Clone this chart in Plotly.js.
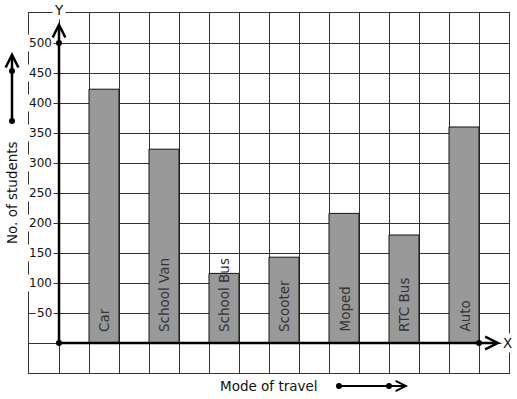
<!DOCTYPE html>
<html><head><meta charset="utf-8">
<script src="https://cdn.plot.ly/plotly-3.0.1.min.js"></script>
<style>html,body{margin:0;padding:0;background:#fff}</style>
</head><body><div id="chart" style="width:517px;height:399px"></div>
<script>
// ---- data ----
const categories = ['Car', 'School Van', 'School Bus', 'Scooter', 'Moped', 'RTC Bus', 'Auto'];
const students = [423, 323, 116, 143, 216, 180, 360];
const yTickVals = [50, 100, 150, 200, 250, 300, 350, 400, 450, 500];
const yTickText = ['50', '100', '150', '200', '250', '300', '350', '400', '450', '500'];
const xTitle = 'Mode of travel';
const yTitle = 'No. of students';
const xAxisLetter = 'X';
const yAxisLetter = 'Y';

// ---- decoration geometry ----
// dots on the axes (axis units)
const axisDotX = [0, 0, 14];
const axisDotY = [0, 500, 0];
// dots on the direction arrows outside the grid (paper units)
const legendDotX = [-0.0354, -0.0354, 0.6458, 0.75];
const legendDotY = [0.8389, 0.7, -0.0361, -0.0361];

const FONT = 'DejaVu Sans';
const xPos = categories.map((c, i) => 1.5 + 2 * i);

const bars = {
  type: 'bar', x: xPos, y: students, width: 1,
  marker: {color: '#999999', line: {color: '#111', width: 1}},
  hoverinfo: 'skip', showlegend: false
};
const dots = {
  type: 'scatter', mode: 'markers', x: axisDotX, y: axisDotY, cliponaxis: false,
  marker: {color: '#000', size: 6}, hoverinfo: 'skip', showlegend: false
};

const annotations = [];
yTickVals.forEach((v, i) => annotations.push({
  x: 0, y: v, xref: 'x', yref: 'y', text: yTickText[i], showarrow: false,
  xanchor: 'right', xshift: -5, bgcolor: 'white', borderpad: 1,
  font: {family: FONT, size: 12, color: '#111'}
}));
categories.forEach((c, i) => annotations.push({
  x: xPos[i], y: 0, xref: 'x', yref: 'y', text: c, showarrow: false,
  textangle: -90, yanchor: 'bottom', yshift: 9,
  font: {family: FONT, size: 13.5, color: '#333'}
}));
function arrow(x, y, ax, ay, w) {
  return {x: x, y: y, ax: ax, ay: ay, xref: 'x', yref: 'y', axref: 'x', ayref: 'y',
    text: '', showarrow: true, arrowhead: 5, arrowsize: 1, arrowwidth: w, arrowcolor: '#000'};
}
function paperArrow(x, y, ax, ay, w) {
  return {x: x, y: y, ax: ax, ay: ay, xref: 'paper', yref: 'paper',
    text: '', showarrow: true, arrowhead: 5, arrowsize: 1, arrowwidth: w, arrowcolor: '#000'};
}
annotations.push(arrow(0, 535, 0, 0, 2.5));
annotations.push(arrow(14.72, 0, 0, 0, 2.5));
annotations.push(paperArrow(-0.0354, 0.8917, 0, 69, 2.5));
annotations.push(paperArrow(0.7896, -0.0361, -69, 0, 2));
annotations.push({x: 0, y: 1.0083, xref: 'x', yref: 'paper', text: yAxisLetter, showarrow: false,
  xanchor: 'center', yanchor: 'middle',
  bgcolor: 'white', borderpad: 1, font: {family: FONT, size: 13.5, color: '#111'}});
annotations.push({x: 14.95, y: 0, xref: 'x', yref: 'y', text: xAxisLetter, showarrow: false,
  xanchor: 'center', yanchor: 'middle',
  bgcolor: 'white', borderpad: 1, font: {family: FONT, size: 13.5, color: '#111'}});
annotations.push({x: 0.499, y: -0.036, xref: 'paper', yref: 'paper', text: xTitle, showarrow: false,
  xanchor: 'center', yanchor: 'middle',
  font: {family: FONT, size: 13.5, color: '#111'}});
annotations.push({x: -0.0354, y: 0.5, xref: 'paper', yref: 'paper', text: yTitle, showarrow: false,
  xanchor: 'center', yanchor: 'middle',
  textangle: -90, font: {family: FONT, size: 13.5, color: '#111'}});

const shapes = legendDotX.map((x, i) => ({
  type: 'circle', xref: 'paper', yref: 'paper', xsizemode: 'pixel', ysizemode: 'pixel',
  xanchor: x, yanchor: legendDotY[i], x0: -3, x1: 3, y0: -3, y1: 3,
  fillcolor: '#000', line: {width: 0}, layer: 'above'
}));

const layout = {
  width: 517, height: 399,
  margin: {l: 29, r: 8, t: 13, b: 26, pad: 0},
  paper_bgcolor: '#fff', plot_bgcolor: '#fff',
  font: {family: FONT, size: 12, color: '#111'},
  showlegend: false,
  xaxis: {range: [-1, 15], tick0: 0, dtick: 1, showgrid: true, gridcolor: '#333', gridwidth: 1,
    zeroline: false, showticklabels: false, ticks: '', showline: true, mirror: true,
    linecolor: '#333', linewidth: 1, fixedrange: true},
  yaxis: {range: [-50, 550], tick0: 0, dtick: 50, showgrid: true, gridcolor: '#333', gridwidth: 1,
    zeroline: false, showticklabels: false, ticks: '', showline: true, mirror: true,
    linecolor: '#333', linewidth: 1, fixedrange: true},
  annotations: annotations,
  shapes: shapes
};

Plotly.newPlot('chart', [bars, dots], layout, {displayModeBar: false, staticPlot: true});
</script>
</body></html>
